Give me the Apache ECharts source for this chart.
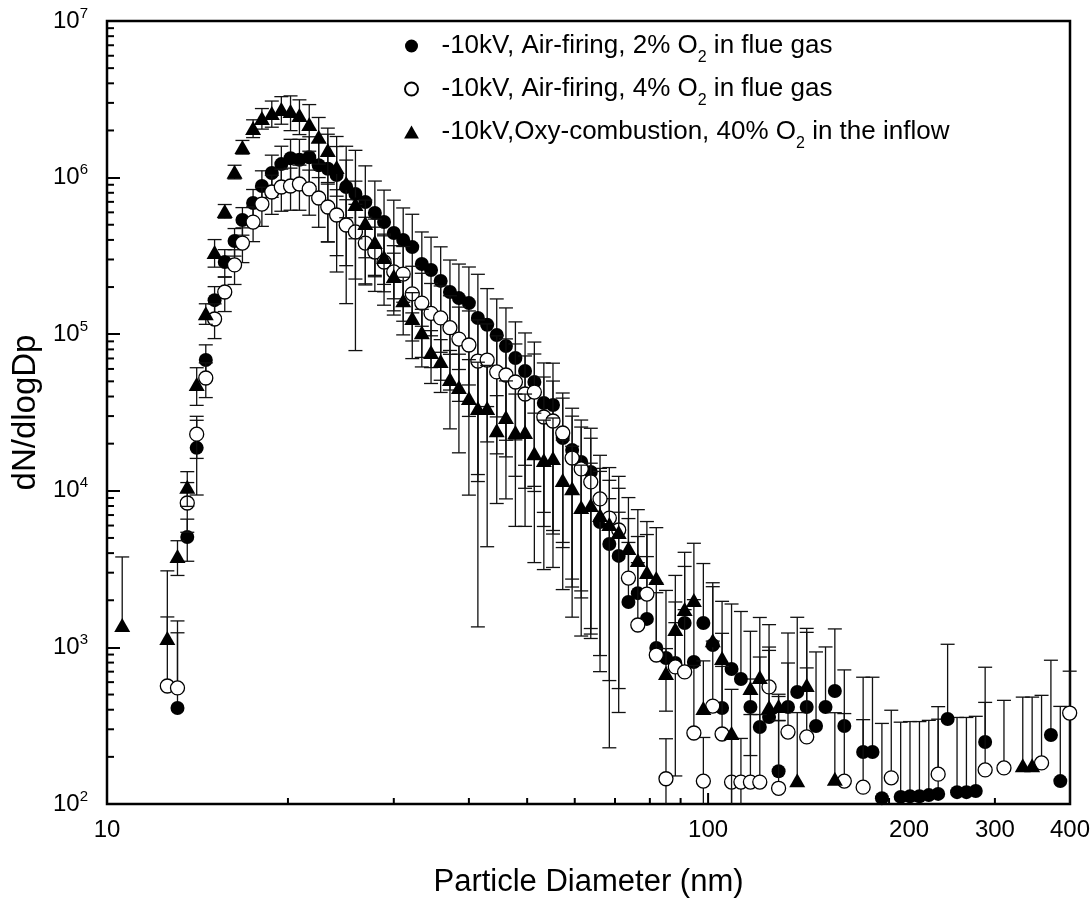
<!DOCTYPE html>
<html>
<head>
<meta charset="utf-8">
<script src="https://cdn.jsdelivr.net/npm/echarts/dist/echarts.min.js"></script>
<style>
html,body{margin:0;padding:0;background:#fff;}
#chart{width:1092px;height:898px;}
</style>
</head>
<body>
<div id="chart"></div>
<script>
// ---------------- DATA ----------------
const diameters = [10.2,10.6,10.9,11.3,11.8,12.2,12.6,13.1,13.6,14.1,
 14.6,15.1,15.7,16.3,16.8,17.5,18.1,18.8,19.5,20.2,
 20.9,21.7,22.5,23.3,24.1,25.0,25.9,26.9,27.9,28.9,
 30.0,31.1,32.2,33.4,34.6,35.9,37.2,38.5,40.0,41.4,
 42.9,44.5,46.1,47.8,49.6,51.4,53.3,55.2,57.3,59.4,
 61.5,63.8,66.1,68.5,71.0,73.7,76.4,79.1,82.0,85.1,
 88.2,91.4,94.7,98.2,101.8,105.5,109.4,113.4,117.6,121.9,
 126.3,131.0,135.8,140.7,145.9,151.2,156.8,162.5,168.5,174.7,
 181.1,187.7,194.6,201.7,209.1,216.7,224.7,232.9,241.4,250.3,
 259.5,269.0,278.8,289.0,299.6,310.6,322.0,333.8,346.0,358.7,
 371.8,385.4,399.5];

const seriesNames = [
  '-10kV, Air-firing, 2% O2 in flue gas',
  '-10kV, Air-firing, 4% O2 in flue gas',
  '-10kV,Oxy-combustion, 40% O2 in the inflow'
];

// -10kV, Air-firing, 2% O2 (filled circles)
const air2 = [null,null,null,null,null,null,null,410,5070,18800,
 68400,165000,289000,394000,536000,688000,884000,1070000,1220000,1330000,
 1300000,1350000,1200000,1140000,1040000,871000,786000,699000,594000,520000,
 443000,400000,360000,281000,257000,219000,186000,170000,158000,127000,
 115000,98800,84100,70500,58200,49500,36400,35300,21700,18200,
 15300,13200,6320,4570,3840,1950,2220,1520,991,856,
 795,1430,807,1430,1035,410,728,628,416,310,
 359,162,416,519,416,315,416,527,315,null,
 215,215,109,null,111,112,112,114,116,349,
 119,119,121,249,null,null,null,null,null,null,
 276,140,null];
// relative standard deviation (error bar half-length / value)
const air2RelErr = [null,null,null,null,null,null,null,2.6,0.3,0.5,
 0.25,0.22,0.2,0.2,0.2,0.22,0.25,0.3,0.3,0.32,
 0.35,0.35,0.4,0.66,0.76,0.82,0.9,0.7,0.6,0.6,
 0.62,0.6,0.62,0.6,0.62,0.65,0.6,0.65,0.7,0.9,
 0.7,0.7,0.75,0.7,0.75,0.8,0.8,0.85,0.8,0.85,
 0.85,0.9,1.2,0.95,0.9,1.4,1.3,1.5,1.6,1.7,
 0.81,1.3,1.5,1.4,1.5,2.0,1.6,1.7,0.51,1.8,
 1.8,2.0,1.97,2.0,2.0,1.97,1.42,1.49,1.28,null,
 2.0,2.0,2.0,null,2.0,2.0,2.0,2.0,2.0,2.0,
 2.0,2.0,2.0,2.0,null,null,null,null,null,null,
 2.0,2.0,null];

// -10kV, Air-firing, 4% O2 (open circles)
const air4 = [null,null,null,null,null,null,567,551,8360,23000,
 52500,125000,186000,277000,382000,520000,678000,809000,871000,884000,
 910000,846000,741000,649000,577000,498000,450000,382000,335000,289000,
 250000,242000,181000,158000,136000,127000,110000,93100,85300,67400,
 68400,57400,54900,49500,41500,42700,29600,27900,23400,16200,
 13800,11400,8870,6700,5620,2770,1390,2190,894,145,
 750,697,284,140,422,280,138,138,138,138,
 559,126,288,null,268,null,null,null,140,null,
 128,null,null,147,null,null,null,null,155,null,
 null,null,null,165,null,170,null,null,null,183,
 null,null,381];
const air4RelErr = [null,null,null,null,null,null,1.76,1.25,0.35,0.3,
 0.25,0.25,0.25,0.25,0.25,0.25,0.28,0.28,0.3,0.3,
 0.32,0.32,0.35,0.4,0.45,0.45,0.5,0.46,0.44,0.47,
 0.47,0.5,0.5,0.55,0.55,0.6,0.6,0.6,0.65,0.83,
 0.7,0.7,0.7,0.75,0.75,0.75,0.8,0.8,0.8,0.85,
 0.85,0.9,0.9,1.1,1.2,1.4,1.5,1.4,1.5,0.8,
 1.6,1.5,1.7,0.9,1.6,1.7,0.9,0.9,1.7,1.7,
 1.5,1.7,1.76,null,1.76,null,null,null,1.7,null,
 1.7,null,null,1.7,null,null,null,null,1.7,null,
 null,null,null,1.7,null,1.7,null,null,null,1.7,
 null,null,0.85];

// -10kV, Oxy-combustion, 40% O2 (filled triangles)
const oxy40 = [null,1390,null,null,null,null,1150,3840,10600,48100,
 136000,335000,612000,1090000,1570000,2070000,2400000,2590000,2740000,2660000,
 2510000,2200000,1820000,1500000,1170000,924000,678000,513000,388000,311000,
 235000,165000,127000,103000,76900,67400,51800,46000,39100,33800,
 33800,24400,29600,23700,23700,17400,15700,16200,11700,10400,
 7880,8110,7000,6140,5460,4310,3610,3030,2770,687,
 1310,1760,2010,410,1110,856,284,null,551,647,
 416,422,null,142,575,null,null,145,null,null,
 null,null,null,null,null,null,null,null,null,null,
 null,null,null,null,null,null,null,177,177,null,
 null,null,null];
const oxy40RelErr = [null,1.72,null,null,null,null,1.68,0.25,0.25,0.27,
 0.15,0.2,0.1,0.1,0.1,0.13,0.15,0.19,0.2,0.25,
 0.25,0.33,0.33,0.38,0.35,0.4,0.4,0.4,0.4,0.4,
 0.4,0.4,0.45,0.4,0.37,0.37,0.52,0.62,0.76,0.96,
 0.87,0.66,0.7,0.75,0.75,0.8,0.8,0.8,0.8,0.85,
 0.85,0.85,0.9,0.9,0.9,1.1,1.1,1.1,1.1,0.43,
 1.2,1.3,1.3,1.0,1.2,1.3,0.9,null,1.3,1.4,
 1.3,0.19,null,1.7,1.3,null,null,1.64,null,null,
 null,null,null,null,null,null,null,null,null,null,
 null,null,null,null,null,null,null,1.72,1.72,null,
 null,null,null];

// axes
const X_MIN = 10, X_MAX = 400, Y_MIN = 100, Y_MAX = 1e7;
const xMinorTicks = [20,30,40,50,60,70,80,90,200,300];
const xMajorTicks = [100];
const xTickLabels = ['10','100','200','300','400'];
const yMinorMultipliers = [2,3,4,5,6,7,8,9];
const yDecades = [100,1000,10000,100000,1000000];

// ---------------- STYLE ----------------
const FONT = '"Liberation Sans", Arial, Helvetica, sans-serif';
const X_LABEL_NUDGE = {'200': 20};
const TRIANGLE_ICON = 'path://M0,14 L8,0 L16,14 Z';

function pairs(vals){
  const out=[]; diameters.forEach((d,i)=>{ if(vals[i]!=null) out.push([d, vals[i]]); }); return out;
}
function triples(vals, rel){
  const out=[]; diameters.forEach((d,i)=>{ if(vals[i]!=null && rel[i]!=null) out.push([d, vals[i], rel[i]]); }); return out;
}

const barStyle = {stroke:'#111', lineWidth:1.3};
const CAP = 7;
function renderErr(params, api){
  const d = api.value(0), v = api.value(1), r = api.value(2);
  const cs = params.coordSys;
  const top = cs.y, bottom = cs.y + cs.height;
  const c = api.coord([d, v]);
  const x = c[0];
  const children = [];
  const hiY = api.coord([d, v*(1+r)])[1];
  children.push({type:'line', shape:{x1:x,y1:c[1],x2:x,y2:Math.max(hiY, top)}, style:barStyle});
  if (hiY >= top) children.push({type:'line', shape:{x1:x-CAP,y1:hiY,x2:x+CAP,y2:hiY}, style:barStyle});
  const lo = v*(1-r);
  if (lo > 0){
    const loY = api.coord([d, lo])[1];
    children.push({type:'line', shape:{x1:x,y1:c[1],x2:x,y2:Math.min(loY, bottom)}, style:barStyle});
    if (loY <= bottom) children.push({type:'line', shape:{x1:x-CAP,y1:loY,x2:x+CAP,y2:loY}, style:barStyle});
  }
  return {type:'group', children};
}

function renderXTick(params, api){
  const v = api.value(0), major = api.value(1);
  const p = api.coord([v, Y_MIN]);
  const len = major ? 11 : 6;
  return {type:'line', shape:{x1:p[0],y1:p[1],x2:p[0],y2:p[1]-len}, style:{stroke:'#000', lineWidth:2}};
}
function renderXLabel(params, api){
  const v = api.value(0);
  const p = api.coord([v, Y_MIN]);
  const txt = xTickLabels[params.dataIndex];
  return {type:'text', style:{text:txt, x:p[0] + (X_LABEL_NUDGE[txt]||0), y:p[1]+26,
    align:'center', verticalAlign:'middle', textAlign:'center', textVerticalAlign:'middle',
    font:'24px ' + FONT, fill:'#000'}};
}
function renderYMinor(params, api){
  const v = api.value(1);
  const p = api.coord([X_MIN, v]);
  return {type:'line', shape:{x1:p[0],y1:p[1],x2:p[0]+7,y2:p[1]}, style:{stroke:'#000', lineWidth:2}};
}

const xTickData = xMinorTicks.map(v=>[v,0]).concat(xMajorTicks.map(v=>[v,1]));
const xLabelData = xTickLabels.map(t=>[Number(t), Y_MIN]);
const yMinorData = [];
yDecades.forEach(dec=>yMinorMultipliers.forEach(m=>yMinorData.push([X_MIN, m*dec])));

const chart = echarts.init(document.getElementById('chart'), null, {renderer:'canvas'});
const option = {
  animation:false,
  backgroundColor:'#fff',
  grid:{left:107, top:21, right:22, bottom:94, show:true, borderColor:'#000', borderWidth:2.5,
        backgroundColor:'transparent', containLabel:false, outerBoundsMode:'none'},
  legend:{
    data:[{name:seriesNames[0]},{name:seriesNames[1]},{name:seriesNames[2], icon:TRIANGLE_ICON}],
    orient:'vertical', left:399, top:28,
    itemWidth:50, itemHeight:13, itemGap:10, selectedMode:false, symbolKeepAspect:true,
    formatter:n=>{ const parts = n.split(' O2 '); return '{n|'+parts[0]+' O}{sub|2}{n| '+parts[1]+'}'; },
    textStyle:{color:'#000', fontFamily:FONT, fontSize:26,
      rich:{ n:{fontSize:26, lineHeight:40, fontFamily:FONT, color:'#000'},
             sub:{fontSize:16, lineHeight:16, verticalAlign:'bottom', fontFamily:FONT, color:'#000'} } }
  },
  xAxis:{type:'log', logBase:10, min:X_MIN, max:X_MAX,
    axisLine:{show:false}, axisTick:{show:false}, axisLabel:{show:false}, splitLine:{show:false},
    name:'Particle Diameter (nm)', nameLocation:'middle', nameGap:63,
    nameTextStyle:{fontSize:31, fontFamily:FONT, color:'#000'}},
  yAxis:{type:'log', logBase:10, min:Y_MIN, max:Y_MAX,
    axisLine:{show:false}, splitLine:{show:false},
    axisTick:{show:true, inside:true, length:13, lineStyle:{color:'#000', width:2}},
    axisLabel:{margin:19, formatter:v=>'{b|10}{s|'+Math.round(Math.log10(v))+'}',
      rich:{ b:{fontSize:24, lineHeight:30, fontFamily:FONT, color:'#000'},
             s:{fontSize:15, lineHeight:15, verticalAlign:'top', fontFamily:FONT, color:'#000'} } },
    name:'dN/dlogDp', nameLocation:'middle', nameGap:60,
    nameTextStyle:{fontSize:33, fontFamily:FONT, color:'#000'}},
  series:[
    {type:'custom', name:'air2err', renderItem:renderErr, data:triples(air2, air2RelErr),
      dimensions:['d','v','r'], encode:{x:0,y:1}, z:2, silent:true, clip:false},
    {type:'scatter', name:seriesNames[0], data:pairs(air2), symbol:'circle', symbolSize:14,
      itemStyle:{color:'#000', opacity:1}, z:3, silent:true},
    {type:'custom', name:'air4err', renderItem:renderErr, data:triples(air4, air4RelErr),
      dimensions:['d','v','r'], encode:{x:0,y:1}, z:4, silent:true, clip:false},
    {type:'scatter', name:seriesNames[1], data:pairs(air4), symbol:'circle', symbolSize:14,
      itemStyle:{color:'#fff', borderColor:'#000', borderWidth:1.3, opacity:1}, z:5, silent:true},
    {type:'custom', name:'oxyerr', renderItem:renderErr, data:triples(oxy40, oxy40RelErr),
      dimensions:['d','v','r'], encode:{x:0,y:1}, z:6, silent:true, clip:false},
    {type:'scatter', name:seriesNames[2], data:pairs(oxy40), symbol:'triangle', symbolSize:[16,14],
      itemStyle:{color:'#000', opacity:1}, z:7, silent:true},
    {type:'custom', name:'xticks', renderItem:renderXTick, data:xTickData, encode:{x:0},
      z:8, silent:true, clip:false},
    {type:'custom', name:'xlabels', renderItem:renderXLabel, data:xLabelData, encode:{x:0,y:1},
      z:8, silent:true, clip:false},
    {type:'custom', name:'yminor', renderItem:renderYMinor, data:yMinorData, encode:{x:0,y:1},
      z:8, silent:true, clip:false}
  ]
};
chart.setOption(option);
</script>
</body>
</html>
